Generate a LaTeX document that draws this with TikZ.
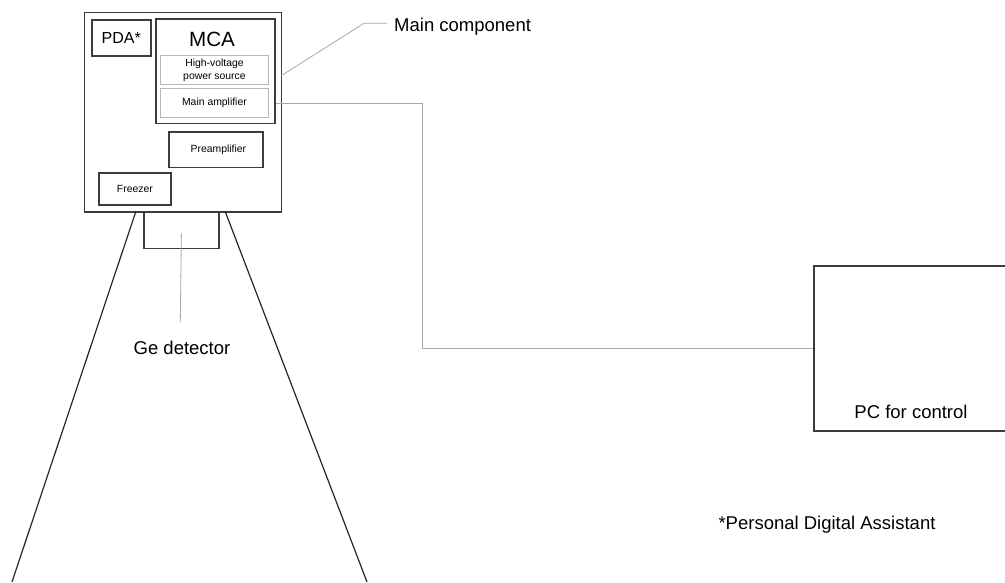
\documentclass[tikz,border=0pt]{standalone}
\usepackage{fontspec}
\setmainfont{Liberation Sans}
\usetikzlibrary{calc}
\definecolor{dk}{HTML}{3C3C3C}
\definecolor{lt}{HTML}{B8B8B8}
\definecolor{ld}{HTML}{A8A8A8}
\tikzset{
  box/.style={draw=dk, line width=1.5pt, inner sep=0pt, anchor=north west},
  subbox/.style={draw=lt, line width=0.9pt, inner sep=0pt, anchor=north west, align=center},
  lead/.style={draw=ld, line width=0.8pt},
  cone/.style={draw=black!85, line width=1.2pt},
  big/.style={font=\fontsize{18.5}{22}\selectfont, inner sep=0pt},
  small/.style={font=\fontsize{10.4}{13}\selectfont},
}
\begin{document}
\begin{tikzpicture}[x=1pt,y=-1pt]
\useasboundingbox (0,0) rectangle (1005,582);
\clip (0,0) rectangle (1005,582);
% main component
\node[box, minimum width=197pt, minimum height=199.3pt] (main) at (83.7,11.7) {};
\node[box, minimum width=59pt, minimum height=36pt, font=\fontsize{16}{19}\selectfont] (pda) at (91,19) {PDA*};
\node[box, minimum width=118.7pt, minimum height=104.4pt] (mca) at (155.3,18.3) {};
\node[font=\fontsize{20.6}{24}\selectfont, inner sep=0pt] (mcat) at (212,39) {MCA};
\node[subbox, small, minimum width=108pt, minimum height=29.3pt] (hv) at (160,55) {High-voltage\\power source};
\node[subbox, small, minimum width=108pt, minimum height=29pt] (mamp) at (160,88.3) {Main amplifier};
\node[box, small, minimum width=93.7pt, minimum height=35.7pt] (pre) at (168.3,131) {\hspace*{5pt}Preamplifier};
\node[box, small, minimum width=71.7pt, minimum height=31.7pt] (frz) at (98.3,172.3) {Freezer};
% Ge detector
\node[box, minimum width=74.7pt, minimum height=36pt] (ge) at (143.3,211.7) {};
\coordinate (gepin) at (180.3,322);
\node[big] (gelab) at (182,348) {Ge detector};
\draw[lead] (ge.center) ++(0,3) -- (gepin);
% cone
\coordinate (cl1) at (136,211);
\coordinate (cl2) at (12,582);
\coordinate (cr1) at (225,211);
\coordinate (cr2) at (367,582);
\draw[cone] (cl1) -- (cl2);
\draw[cone] (cr1) -- (cr2);
% main component leader
\coordinate (mc1) at (280.7,76);
\coordinate (mc2) at (364,23.3);
\coordinate (mc3) at (387,23.3);
\node[big, anchor=west] (mclab) at (394,26.5) {Main component};
\draw[lead] (mc1) -- (mc2) -- (mc3);
% PC
\node[box, minimum width=200pt, minimum height=165pt] (pc) at (813,265) {};
\node[big] (pclab) at (911,412) {PC for control};
\coordinate (bendx) at (422,0);
\draw[lead] (mamp.east -| mca.east) -- (mamp.east -| bendx) |- (pc.west);
% footnote
\node[big] (foot) at (827,525) {*Personal Digital Assistant};
\end{tikzpicture}
\end{document}
